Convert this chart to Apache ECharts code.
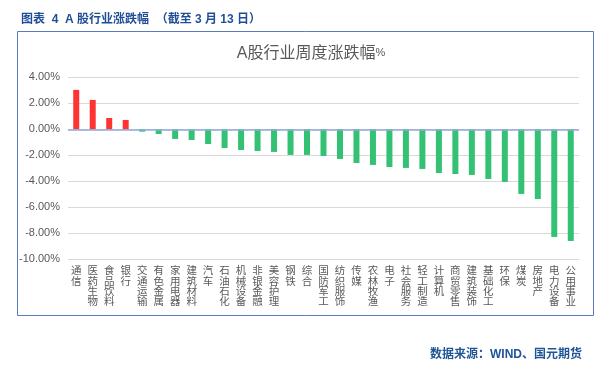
<!DOCTYPE html>
<html>
<head>
<meta charset="utf-8">
<script src="https://cdn.jsdelivr.net/npm/echarts@6/dist/echarts.min.js"></script>
<style>
html,body{margin:0;padding:0;background:#fff;}
#c{width:611px;height:373px;}
</style>
</head>
<body>
<div id="c"></div>
<script>
const categories = ['通信','医药生物','食品饮料','银行','交通运输','有色金属','家用电器','建筑材料','汽车','石油石化','机械设备','非银金融','美容护理','钢铁','综合','国防军工','纺织服饰','传媒','农林牧渔','电子','社会服务','轻工制造','计算机','商贸零售','建筑装饰','基础化工','环保','煤炭','房地产','电力设备','公用事业'];
const weeklyChange = [3.03,2.26,0.87,0.72,-0.18,-0.36,-0.74,-0.82,-1.13,-1.44,-1.59,-1.67,-1.74,-1.97,-1.97,-2.05,-2.28,-2.59,-2.74,-2.90,-2.97,-3.05,-3.36,-3.44,-3.51,-3.82,-4.05,-4.97,-5.36,-8.28,-8.59];
const yTicks = {min:-10, max:4, interval:2};

const verticalCats = categories.map(c => Array.from(c).join('\n'));

const chart = echarts.init(document.getElementById('c'), null, {renderer:'canvas'});
const font = '"Noto Sans CJK SC", sans-serif';
const latin = 'Arial, "Liberation Sans", "Noto Sans CJK SC", sans-serif';
chart.setOption({
  animation:false,
  backgroundColor:'#ffffff',
  title:[
    {text:'图表  4  A 股行业涨跌幅  （截至 3 月 13 日）', left:16, top:9,
     textStyle:{fontSize:12, fontWeight:'bold', color:'#1f4e96', fontFamily:latin}},
    {text:'{t|A股行业周度涨跌幅}{p|%}', left:306, top:37, textAlign:'center',
     textStyle:{fontSize:16, fontWeight:'normal', color:'#595959', fontFamily:latin,
       rich:{
         t:{fontSize:16, lineHeight:20, color:'#595959', fontFamily:latin, verticalAlign:'bottom'},
         p:{fontSize:11, lineHeight:20, color:'#595959', fontFamily:latin, verticalAlign:'bottom', padding:[0,0,4,0]}
       }}},
    {text:'数据来源：WIND、国元期货', right:24, top:344,
     textStyle:{fontSize:12, fontWeight:'bold', color:'#1f5597', fontFamily:latin}}
  ],
  graphic:[
    {type:'rect', shape:{x:17.5, y:31.5, width:576, height:284},
     style:{fill:'none', stroke:'#5a7bbf', lineWidth:1}, silent:true}
  ],
  grid:{left:68, right:32, top:77.3, bottom:113.7, containLabel:false},
  xAxis:{
    type:'category', data:verticalCats,
    axisLine:{show:false}, axisTick:{show:false},
    axisLabel:{interval:0, margin:6, verticalAlign:'top', align:'center',
      fontSize:10.5, lineHeight:10.3, color:'#595959', fontFamily:font,
      hideOverlap:false}
  },
  yAxis:{
    type:'value', min:yTicks.min, max:yTicks.max, interval:yTicks.interval,
    axisLine:{show:false}, axisTick:{show:false},
    axisLabel:{margin:8, fontSize:11, color:'#595959', fontFamily:latin, formatter:v=>v.toFixed(2)+'%'},
    splitLine:{lineStyle:{color:'#d9d9d9', width:1}}
  },
  series:[{
    type:'bar', data:weeklyChange, barWidth:6,
    itemStyle:{color:p=>p.value>=0?'#ff3333':'#33c173'},
    markLine:{silent:true, symbol:'none', label:{show:false},
      lineStyle:{color:'#8eaadb', width:1.5, type:'solid'},
      data:[{yAxis:0}]}
  }]
});
</script>
</body>
</html>
